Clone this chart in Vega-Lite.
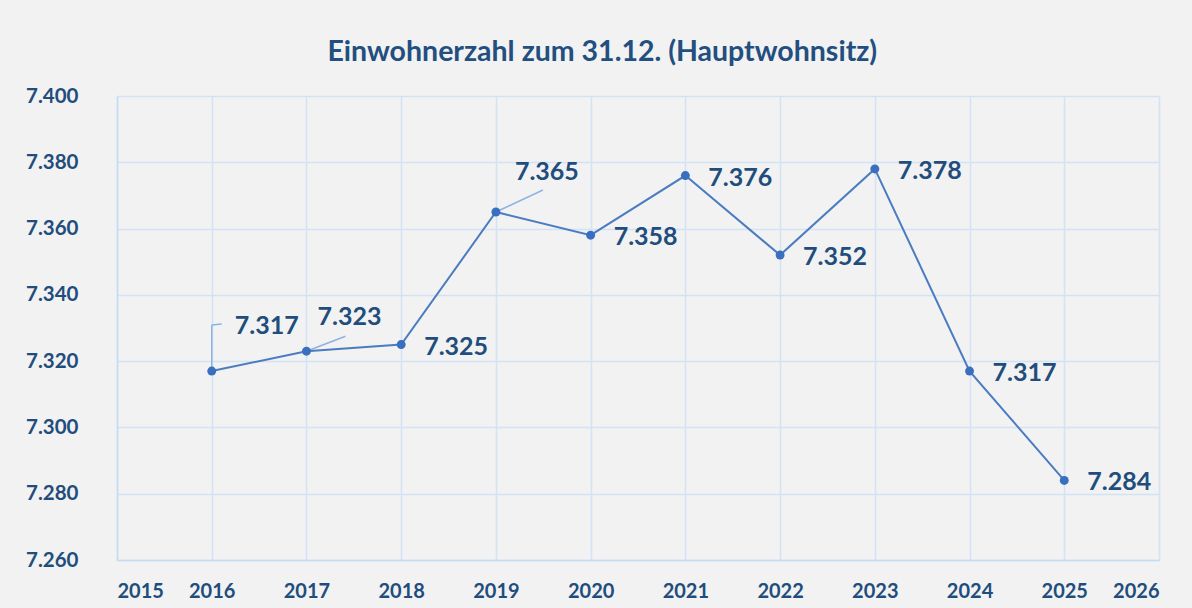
{
  "$schema": "https://vega.github.io/schema/vega-lite/v6.json",
  "width": 1042,
  "height": 464,
  "autosize": {"type": "none"},
  "padding": {"left": 117, "top": 96, "right": 33, "bottom": 48},
  "background": "#f2f2f2",
  "config": {
    "locale": {"number": {"decimal": ",", "thousands": ".", "grouping": [3], "currency": ["", " €"]}},
    "view": {"stroke": null},
    "font": "Lato"
  },
  "title": {
    "text": "Einwohnerzahl zum 31.12. (Hauptwohnsitz)",
    "font": "Lato",
    "fontSize": 28.5,
    "fontWeight": "bold",
    "color": "#234e80",
    "anchor": "middle",
    "frame": "bounds",
    "dx": 10,
    "offset": 20
  },
  "data": {
    "values": [
      {"year": 2016, "value": 7317},
      {"year": 2017, "value": 7323},
      {"year": 2018, "value": 7325},
      {"year": 2019, "value": 7365},
      {"year": 2020, "value": 7358},
      {"year": 2021, "value": 7376},
      {"year": 2022, "value": 7352},
      {"year": 2023, "value": 7378},
      {"year": 2024, "value": 7317},
      {"year": 2025, "value": 7284}
    ]
  },
  "encoding": {
    "x": {
      "field": "year",
      "type": "quantitative",
      "scale": {"domain": [2015, 2026], "nice": false, "zero": false},
      "axis": {
        "title": null,
        "values": [2015, 2016, 2017, 2018, 2019, 2020, 2021, 2022, 2023, 2024, 2025, 2026],
        "format": "d",
        "ticks": false,
        "tickSize": 0,
        "labelPadding": 21,
        "labelFont": "Lato",
        "labelFontSize": 20,
        "labelFontWeight": "bold",
        "labelColor": "#214d7d",
        "domainColor": "#c5daf3",
        "domainWidth": 1.5,
        "gridColor": "#d3e3f6",
        "gridWidth": 1.5,
        "grid": true
      }
    },
    "y": {
      "field": "value",
      "type": "quantitative",
      "scale": {"domain": [7260, 7400], "nice": false, "zero": false},
      "axis": {
        "title": null,
        "values": [7260, 7280, 7300, 7320, 7340, 7360, 7380, 7400],
        "format": ",d",
        "ticks": false,
        "tickSize": 0,
        "labelPadding": 39,
        "labelFont": "Lato",
        "labelFontSize": 20.5,
        "labelFontWeight": "bold",
        "labelColor": "#214d7d",
        "domainColor": "#c5daf3",
        "domainWidth": 1.5,
        "gridColor": "#d3e3f6",
        "gridWidth": 1.5,
        "grid": true
      }
    }
  },
  "layer": [
    {
      "transform": [{"filter": "datum.year == 2016"}],
      "mark": {"type": "rule", "color": "#8db3e2", "strokeWidth": 1.5, "y2Offset": -46},
      "encoding": {"x2": {"field": "year"}, "y2": {"field": "value"}}
    },
    {
      "transform": [{"filter": "datum.year == 2016"}],
      "mark": {"type": "rule", "color": "#8db3e2", "strokeWidth": 1.5, "yOffset": -46, "x2Offset": 10, "y2Offset": -47},
      "encoding": {"x2": {"field": "year"}, "y2": {"field": "value"}}
    },
    {
      "transform": [{"filter": "datum.year == 2017"}],
      "mark": {"type": "rule", "color": "#8db3e2", "strokeWidth": 1.5, "x2Offset": 39, "y2Offset": -15},
      "encoding": {"x2": {"field": "year"}, "y2": {"field": "value"}}
    },
    {
      "transform": [{"filter": "datum.year == 2019"}],
      "mark": {"type": "rule", "color": "#8db3e2", "strokeWidth": 1.5, "x2Offset": 47, "y2Offset": -22},
      "encoding": {"x2": {"field": "year"}, "y2": {"field": "value"}}
    },
    {
      "mark": {"type": "line", "color": "#4a7cc1", "strokeWidth": 2}
    },
    {
      "mark": {"type": "point", "filled": true, "color": "#3a6fbf", "size": 80, "opacity": 1}
    },
    {
      "transform": [{"filter": "datum.year != 2016 && datum.year != 2017 && datum.year != 2019"}],
      "mark": {"type": "text", "align": "left", "baseline": "middle", "dx": 23, "dy": 2, "font": "Lato", "fontSize": 25, "fontWeight": "bold", "color": "#214d7d"},
      "encoding": {"text": {"field": "value", "type": "quantitative", "format": ",d"}}
    },
    {
      "transform": [{"filter": "datum.year == 2016"}],
      "mark": {"type": "text", "align": "left", "baseline": "middle", "dx": 23, "dy": -45, "font": "Lato", "fontSize": 25, "fontWeight": "bold", "color": "#214d7d"},
      "encoding": {"text": {"field": "value", "type": "quantitative", "format": ",d"}}
    },
    {
      "transform": [{"filter": "datum.year == 2017"}],
      "mark": {"type": "text", "align": "left", "baseline": "middle", "dx": 11, "dy": -34, "font": "Lato", "fontSize": 25, "fontWeight": "bold", "color": "#214d7d"},
      "encoding": {"text": {"field": "value", "type": "quantitative", "format": ",d"}}
    },
    {
      "transform": [{"filter": "datum.year == 2019"}],
      "mark": {"type": "text", "align": "left", "baseline": "middle", "dx": 19, "dy": -40, "font": "Lato", "fontSize": 25, "fontWeight": "bold", "color": "#214d7d"},
      "encoding": {"text": {"field": "value", "type": "quantitative", "format": ",d"}}
    }
  ]
}
